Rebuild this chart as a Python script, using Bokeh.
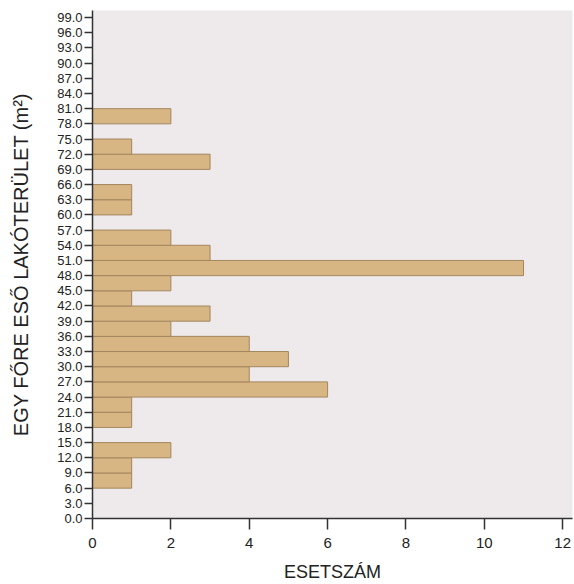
from bokeh.plotting import figure
from bokeh.models import FixedTicker, NumeralTickFormatter, Range1d
from bokeh.embed import file_html
from bokeh.resources import INLINE

bin_lower = [6, 9, 12, 18, 21, 24, 27, 30, 33, 36, 39, 42, 45, 48, 51, 54, 60, 63, 69, 72, 78]
counts    = [1, 1, 2, 1, 1, 6, 4, 5, 4, 2, 3, 1, 2, 11, 3, 2, 1, 1, 3, 1, 2]
bin_width = 3
y_ticks = [i * 3 for i in range(34)]
x_ticks = [0, 2, 4, 6, 8, 10, 12]

p = figure(width=574, height=584, output_backend="svg", toolbar_location=None,
           x_range=Range1d(0, 12.25), y_range=Range1d(0, 100.4),
           min_border_left=92, min_border_right=2, min_border_top=10, min_border_bottom=66)

p.background_fill_color = "#eeeaeb"
p.border_fill_color = "white"
p.outline_line_color = None
p.xgrid.grid_line_color = None
p.ygrid.grid_line_color = None

ys = [b + bin_width / 2 for b in bin_lower]
p.hbar(y=ys, left=0, right=counts, height=bin_width,
       fill_color="#d8b683", line_color="#a3865e", line_width=1)

p.xaxis.ticker = FixedTicker(ticks=x_ticks)
p.yaxis.ticker = FixedTicker(ticks=y_ticks)
p.yaxis.formatter = NumeralTickFormatter(format="0.0")

for ax in (p.xaxis, p.yaxis):
    ax.axis_line_color = "#333333"
    ax.axis_line_width = 1.5
    ax.major_tick_line_color = "#333333"
    ax.major_tick_line_width = 1.5
    ax.minor_tick_line_color = None
    ax.major_tick_in = 0
    ax.major_label_text_color = "#222222"
    ax.major_label_text_font = "Liberation Sans"
    ax.axis_label_text_font = "Liberation Sans"
    ax.axis_label_text_font_style = "normal"
    ax.axis_label_text_color = "#222222"

p.xaxis.major_tick_out = 11
p.yaxis.major_tick_out = 8
p.xaxis.major_label_text_font_size = "15px"
p.yaxis.major_label_text_font_size = "13px"
p.xaxis.major_label_standoff = 8
p.yaxis.major_label_standoff = 2

p.xaxis.axis_label = "ESETSZÁM"
p.yaxis.axis_label = "EGY FŐRE ESŐ LAKÓTERÜLET (m²)"
p.xaxis.axis_label_text_font_size = "18px"
p.yaxis.axis_label_text_font_size = "20px"
p.xaxis.axis_label_standoff = 11
p.yaxis.axis_label_standoff = 22

open("out.html", "w").write(file_html(p, INLINE))
